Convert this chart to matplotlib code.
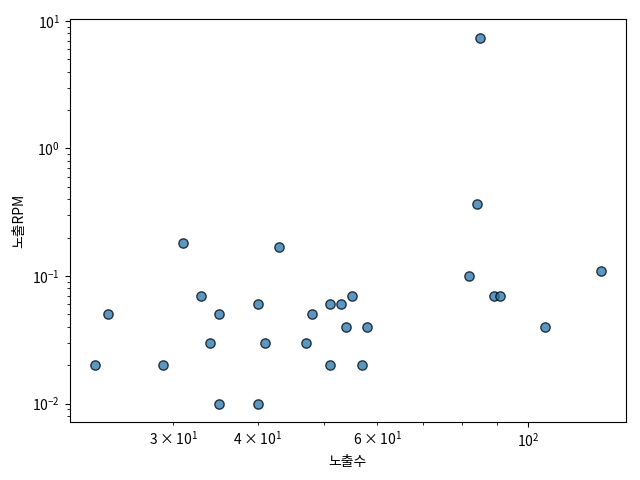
import matplotlib
matplotlib.use("Agg")
import matplotlib.pyplot as plt

plt.rcParams['font.family'] = ['Noto Sans CJK KR', 'DejaVu Sans']
plt.rcParams['mathtext.fontset'] = 'custom'
plt.rcParams['mathtext.rm'] = 'Noto Sans CJK KR'
plt.rcParams['mathtext.it'] = 'Noto Sans CJK KR'
plt.rcParams['mathtext.bf'] = 'Noto Sans CJK KR'

impressions = [23, 24, 29, 31, 33, 34, 35, 35, 40, 40, 41, 43,
               47, 48, 51, 51, 53, 54, 55, 57, 58,
               82, 84, 85, 89, 91, 106, 128]
rpm = [0.02, 0.05, 0.02, 0.18, 0.07, 0.03, 0.05, 0.01, 0.06, 0.01, 0.03, 0.17,
       0.03, 0.05, 0.06, 0.02, 0.06, 0.04, 0.07, 0.02, 0.04,
       0.10, 0.37, 7.4, 0.07, 0.07, 0.04, 0.11]

fig, ax = plt.subplots(figsize=(6.4, 4.8), dpi=100)
ax.scatter(impressions, rpm, s=45, c='#1f77b4', alpha=0.75, edgecolors='black', linewidths=1)
ax.set_xscale('log')
ax.set_yscale('log')
ax.set_xlabel('노출수')
ax.set_ylabel('노출RPM')
fig.subplots_adjust(left=0.109, right=0.978, top=0.960, bottom=0.121)
fig.savefig('out.png', dpi=100)
